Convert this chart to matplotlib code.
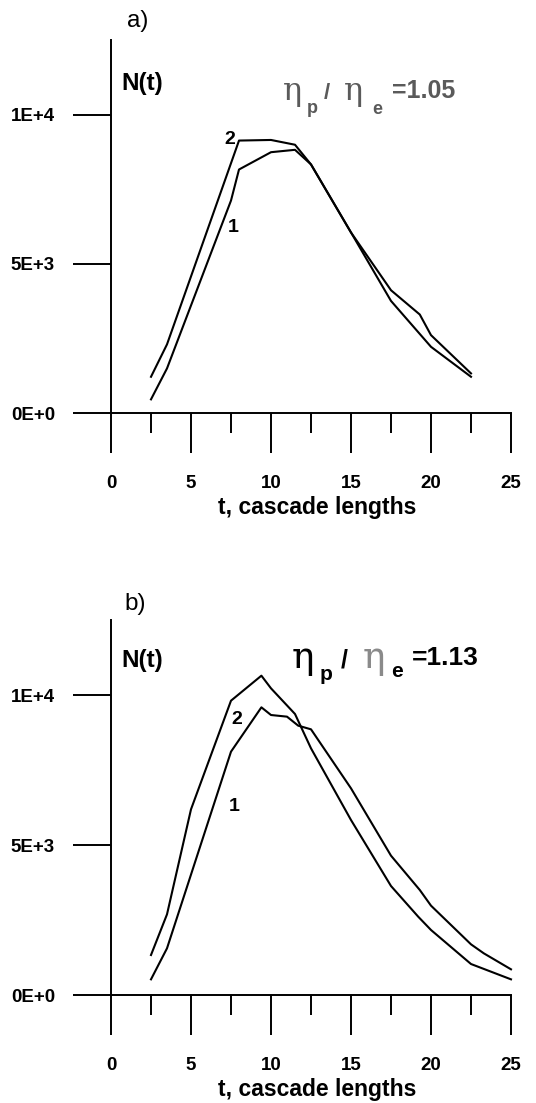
import matplotlib
matplotlib.use('Agg')
import matplotlib.pyplot as plt
from matplotlib.ticker import MultipleLocator

plt.rcParams['font.family'] = ['Liberation Sans', 'DejaVu Sans']

# panel a) eta_p / eta_e = 1.05
t_a1 = [2.5, 3.5, 7.5, 8.0, 10.0, 11.5, 12.5, 15.0, 17.5, 20.0, 22.5]
n_a1 = [457, 1494, 7120, 8160, 8740, 8820, 8330, 6050, 3756, 2218, 1214]
t_a2 = [2.5, 3.5, 8.0, 10.0, 11.5, 12.5, 15.0, 17.5, 19.3, 20.0, 22.5]
n_a2 = [1214, 2300, 9130, 9150, 8990, 8330, 6050, 4114, 3300, 2609, 1327]

# panel b) eta_p / eta_e = 1.13
t_b1 = [2.5, 3.5, 7.5, 9.4, 10.0, 11.0, 11.7, 12.5, 15.0, 17.5, 19.3, 20.0, 22.5, 23.3, 25.0]
n_b1 = [522, 1556, 8111, 9589, 9333, 9278, 8978, 8856, 6889, 4644, 3500, 2978, 1689, 1389, 856]
t_b2 = [2.5, 3.5, 5.0, 7.5, 9.4, 10.0, 11.5, 12.5, 15.0, 17.5, 19.2, 20.0, 22.5, 25.0]
n_b2 = [1333, 2689, 6189, 9811, 10644, 10222, 9367, 8222, 5833, 3633, 2611, 2167, 1033, 522]

yticks = [0, 5000, 10000]
ylabels = ['0E+0', '5E+3', '1E+4']
xticks = [0, 5, 10, 15, 20, 25]

W, H = 536, 1103
fig = plt.figure(figsize=(W / 100, H / 100), dpi=100)


def make_panel(bottom_px, top_px):
    ax = fig.add_axes([111 / W, (H - bottom_px) / H, 400 / W, (bottom_px - top_px) / H])
    ax.set_xlim(0, 25)
    ax.set_ylim(0, 12500)
    for s in ['top', 'right']:
        ax.spines[s].set_visible(False)
    for s in ['left', 'bottom']:
        ax.spines[s].set_linewidth(1.4)
    ax.set_xticks(xticks)
    ax.set_xticklabels([str(v) for v in xticks], fontweight='bold', fontsize=13.5)
    ax.xaxis.set_minor_locator(MultipleLocator(2.5))
    ax.set_yticks(yticks)
    ax.set_yticklabels(ylabels, fontweight='bold', fontsize=13.5)
    ax.tick_params(axis='x', which='major', length=28.8, width=1.4, pad=16)
    ax.tick_params(axis='x', which='minor', length=14.4, width=1.4)
    ax.tick_params(axis='y', which='major', length=27.4, width=1.4, pad=13)
    ax.set_xlabel('t, cascade lengths', fontweight='bold', fontsize=16.5)
    ax.xaxis.set_label_coords(0.515, -0.222)
    ax.patch.set_visible(False)
    return ax


def ratio_label(ax, x0, y0, parts):
    # parts: (text, dx px, dy px below baseline, size, family, weight, color)
    for txt, dx, dy, size, fam, wt, col in parts:
        ax.annotate(txt, (x0, y0), xytext=(dx, -dy), textcoords='offset pixels',
                    fontsize=size, family=fam, fontweight=wt, color=col,
                    va='baseline', ha='left')


ax_a = make_panel(413, 40)
ax_a.plot(t_a1, n_a1, color='black', lw=1.5)
ax_a.plot(t_a2, n_a2, color='black', lw=1.5)
ax_a.text(0.63, 10824, 'N(t)', fontsize=17.5, fontweight='bold', va='baseline')
ax_a.text(7.44, 9150, '2', fontsize=14, fontweight='bold', ha='center', va='center')
ax_a.text(7.63, 6233, '1', fontsize=14, fontweight='bold', ha='center', va='center')
g = '#5a5a5a'
ratio_label(ax_a, 10.81, 10556, [
    ('η', -1, 2, 23, 'DejaVu Serif', 'normal', g),
    ('p', 23, 15, 13, 'Liberation Sans', 'bold', g),
    ('/', 40, 1, 16, 'Liberation Sans', 'bold', g),
    ('η', 60, 2, 23, 'DejaVu Serif', 'normal', g),
    ('e', 88, 16, 13, 'Liberation Sans', 'bold', g),
    ('=1.05', 108, 0, 18, 'Liberation Sans', 'bold', g),
])

ax_b = make_panel(995, 620)
ax_b.plot(t_b1, n_b1, color='black', lw=1.5, clip_on=False)
ax_b.plot(t_b2, n_b2, color='black', lw=1.5, clip_on=False)
ax_b.text(0.63, 10933, 'N(t)', fontsize=17.5, fontweight='bold', va='baseline')
ax_b.text(7.88, 9200, '2', fontsize=14, fontweight='bold', ha='center', va='center')
ax_b.text(7.69, 6267, '1', fontsize=14, fontweight='bold', ha='center', va='center')
ratio_label(ax_b, 11.38, 11000, [
    ('η', -1, 3, 27, 'DejaVu Serif', 'normal', 'black'),
    ('p', 26, 15, 15, 'Liberation Sans', 'bold', 'black'),
    ('/', 48, 2, 18, 'Liberation Sans', 'bold', 'black'),
    ('η', 70, 3, 27, 'DejaVu Serif', 'normal', '#8a8a8a'),
    ('e', 98, 12, 15, 'Liberation Sans', 'bold', 'black'),
    ('=1.13', 119, 0, 19, 'Liberation Sans', 'bold', 'black'),
])

fig.text(127 / W, (H - 27) / H, 'a)', fontsize=17.5, va='baseline')
fig.text(124 / W, (H - 610) / H, 'b)', fontsize=17.5, va='baseline')

fig.savefig('out.png', dpi=100)
